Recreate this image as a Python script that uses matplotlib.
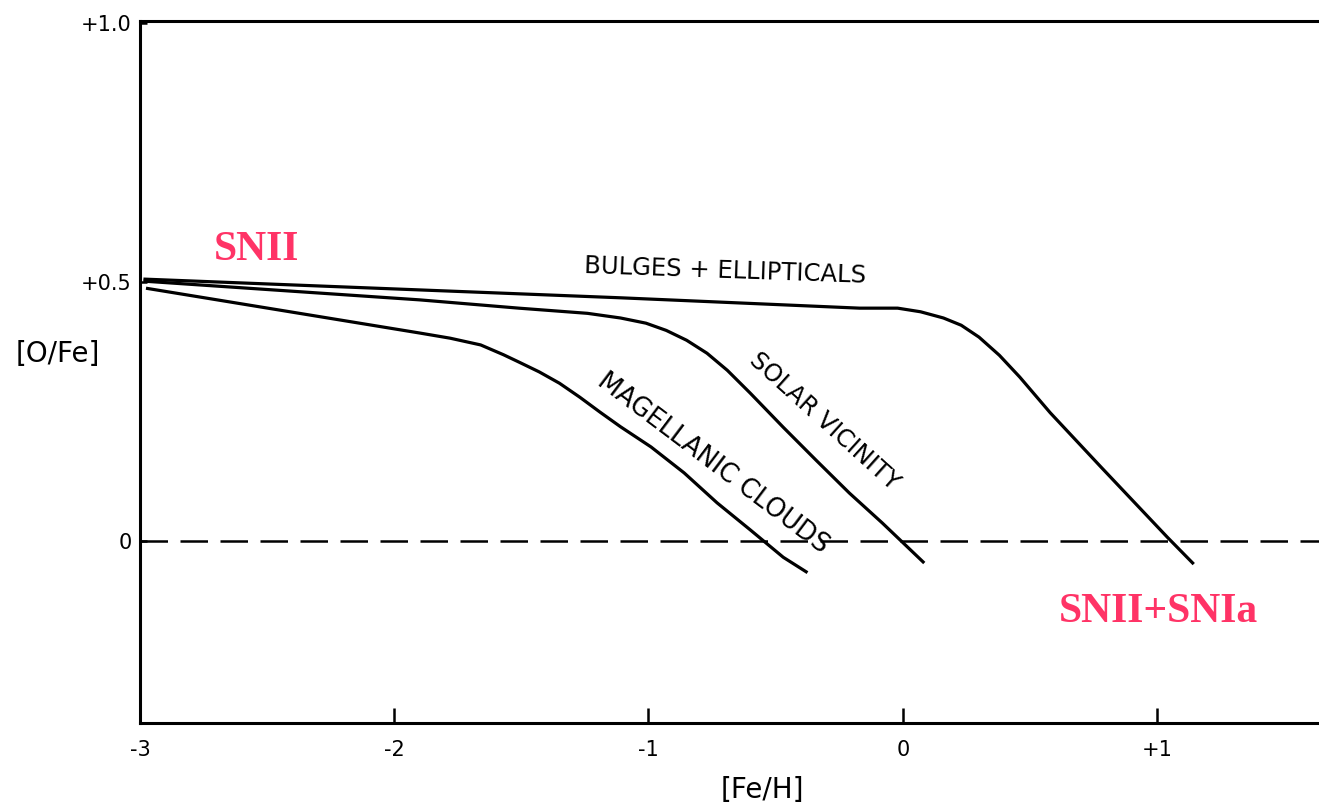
import matplotlib.pyplot as plt

# [Fe/H] vs [O/Fe] tracks
bulge_feh = [-2.98, -1.11, -0.17, -0.02, 0.07, 0.16, 0.23, 0.30, 0.38, 0.46,
             0.58, 0.78, 1.04, 1.14]
bulge_ofe = [0.505, 0.469, 0.449, 0.449, 0.442, 0.430, 0.416, 0.393, 0.358, 0.316,
             0.247, 0.142, 0.007, -0.043]

solar_feh = [-2.98, -1.90, -1.51, -1.24, -1.11, -1.01, -0.93, -0.85, -0.77, -0.69,
             -0.60, -0.47, -0.34, -0.21, -0.08, 0.08]
solar_ofe = [0.501, 0.465, 0.449, 0.439, 0.430, 0.420, 0.406, 0.387, 0.362, 0.329,
             0.285, 0.219, 0.155, 0.092, 0.034, -0.041]

magel_feh = [-2.97, -1.90, -1.78, -1.66, -1.57, -1.51, -1.43, -1.35, -1.27, -1.19,
             -1.11, -0.99, -0.86, -0.73, -0.60, -0.47, -0.38]
magel_ofe = [0.487, 0.401, 0.391, 0.378, 0.359, 0.345, 0.326, 0.304, 0.277, 0.248,
             0.220, 0.181, 0.131, 0.073, 0.021, -0.032, -0.060]

xticks = [-3, -2, -1, 0, 1]
xticklabels = ["-3", "-2", "-1", "0", "+1"]
yticks = [0, 0.5, 1.0]
yticklabels = ["0", "+0.5", "+1.0"]

fig = plt.figure(figsize=(13.19, 8.09), dpi=100)
ax = fig.add_axes([0.1061, 0.1063, 0.8939, 0.8681])

lw = 2.3
ax.plot(bulge_feh, bulge_ofe, color="black", lw=lw)
ax.plot(solar_feh, solar_ofe, color="black", lw=lw)
ax.plot(magel_feh, magel_ofe, color="black", lw=lw)
ax.axhline(0, color="black", lw=1.8, dashes=(11, 5))

ax.set_xlim(-3, 1.637)
ax.set_ylim(-0.352, 1.004)
ax.spines["right"].set_visible(False)
for s in ["left", "bottom", "top"]:
    ax.spines[s].set_linewidth(2.2)

ax.set_xticks(xticks, xticklabels)
ax.set_yticks(yticks, yticklabels)
ax.tick_params(axis="x", direction="in", length=11, width=1.8, pad=12, labelsize=15)
ax.tick_params(axis="y", direction="in", length=5, width=1.8, pad=6, labelsize=15)

fig.text(0.044, 0.563, "[O/Fe]", fontsize=20, ha="center", va="center")
fig.text(0.578, 0.024, "[Fe/H]", fontsize=20, ha="center", va="center")

ax.text(-0.70, 0.521, "BULGES + ELLIPTICALS", fontsize=17.5, rotation=-2,
        ha="center", va="center", rotation_mode="anchor")
ax.text(-0.31, 0.231, "SOLAR VICINITY", fontsize=17.5, rotation=-42,
        ha="center", va="center", rotation_mode="anchor")
ax.text(-0.746, 0.150, "MAGELLANIC CLOUDS", fontsize=18.5, rotation=-37,
        ha="center", va="center", rotation_mode="anchor")

red = "#ff3366"
ax.text(-2.54, 0.561, "SNII", color=red, fontsize=30, fontweight="bold",
        family="Liberation Serif", ha="center", va="center")
ax.text(1.004, -0.138, "SNII+SNIa", color=red, fontsize=30, fontweight="bold",
        family="Liberation Serif", ha="center", va="center")

fig.savefig("out.png", dpi=100)
